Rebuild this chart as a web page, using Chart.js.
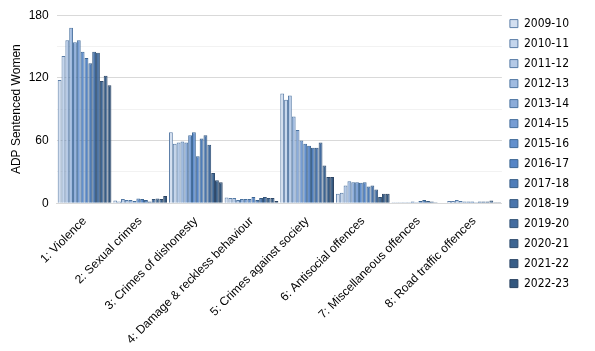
<!DOCTYPE html>
<html>
<head>
<meta charset="utf-8">
<script src="https://cdn.jsdelivr.net/npm/chart.js@4.4.1/dist/chart.umd.min.js"></script>
<style>
  html, body { margin: 0; padding: 0; background: #fff; }
  #wrap { width: 595px; height: 351px; }
</style>
</head>
<body>
<div id="wrap"><canvas id="adp-chart" width="595" height="351"></canvas></div>
<script>
const categories = [
  '1: Violence',
  '2: Sexual crimes',
  '3: Crimes of dishonesty',
  '4: Damage & reckless behaviour',
  '5: Crimes against society',
  '6: Antisocial offences',
  '7: Miscellaneous offences',
  '8: Road traffic offences'
];

const years = ['2009-10', '2010-11', '2011-12', '2012-13', '2013-14', '2014-15', '2015-16',
  '2016-17', '2017-18', '2018-19', '2019-20', '2020-21', '2021-22', '2022-23'];

// one array per crime group, one value per year (2009-10 .. 2022-23)
const violence   = [118, 141, 156, 168, 154, 156, 145, 139, 134, 145, 144, 117, 122, 113];
const sexual     = [2.5, 1.5, 4, 3, 3, 2, 4.5, 4, 3, 1.5, 4, 4.5, 4, 7];
const dishonesty = [68, 57, 58, 59, 58, 65, 68, 45, 62, 65, 56, 29, 22, 20];
const damage     = [5.5, 5, 5, 3, 4, 4, 4, 6, 3, 5, 6, 5, 5, 2];
const society    = [105, 99, 103, 83, 70, 60, 57, 55, 53, 53, 58, 36, 25, 25];
const antisocial = [9, 10, 17, 21, 20, 20, 19.5, 20, 16, 17, 13, 6, 9, 9];
const misc       = [1, 1, 1, 1, 1, 1.5, 1, 2, 3, 2, 1.5, 1, 0.5, 0.5];
const road       = [2, 2, 3, 2, 1.5, 1.5, 1.5, 1, 1.5, 1.5, 1.5, 2.5, 1, 1];

const yTicks = [0, 60, 120, 180];

const fills = ['#d3dff0', '#c4d5ec', '#b4c9e6', '#a0bbe0', '#8cacd9', '#779dd3', '#6390cd',
  '#5685c6', '#4f7db9', '#4a75ac', '#436c9f', '#3d6592', '#375d87', '#33577e'];
const edges = ['#5d7fa8', '#5a7ca6', '#557aa5', '#5077a3', '#4b73a0', '#466f9d', '#416b99',
  '#3d6693', '#3a6089', '#375a80', '#345477', '#314e6f', '#2e4868', '#2b4362'];

const groups = [violence, sexual, dishonesty, damage, society, antisocial, misc, road];

const datasets = years.map((yr, i) => ({
  label: yr,
  data: groups.map(g => g[i]),
  backgroundColor: fills[i],
  borderColor: edges[i],
  borderWidth: 1,
  categoryPercentage: 0.965,
  barPercentage: 1
}));

const ctx = document.getElementById('adp-chart').getContext('2d');
new Chart(ctx, {
  type: 'bar',
  data: { labels: categories, datasets: datasets },
  options: {
    responsive: false,
    animation: false,
    layout: { padding: { top: 0, right: 16, left: 2, bottom: 1 } },
    plugins: {
      tooltip: { enabled: false },
      legend: {
        position: 'right',
        align: 'start',
        // empty title only pushes the key down a little
        title: { display: true, text: ' ', padding: 0, font: { size: 8 } },
        labels: {
          font: { family: "'DejaVu Sans Condensed', 'DejaVu Sans'", size: 12 },
          color: '#000',
          boxWidth: 8,
          boxHeight: 8,
          padding: 8
        }
      }
    },
    scales: {
      x: {
        grid: { display: false },
        border: { color: '#d9d9d9' },
        ticks: {
          minRotation: 45,
          maxRotation: 45,
          color: '#000',
          font: { family: 'Liberation Sans', size: 12 }
        }
      },
      y: {
        min: 0,
        max: 180,
        border: { display: false },
        grid: {
          drawTicks: false,
          color: c => (yTicks.includes(c.tick.value) ? '#d9d9d9' : '#f2f2f2')
        },
        ticks: {
          stepSize: 30,
          padding: 8,
          color: '#000',
          font: { family: 'Liberation Sans', size: 12 },
          callback: v => (yTicks.includes(v) ? v : '')
        },
        title: {
          display: true,
          text: 'ADP Sentenced Women',
          color: '#000',
          font: { family: 'Liberation Sans', size: 12, lineHeight: 0.6 },
          padding: { top: 11.5, bottom: 0 }
        }
      }
    }
  }
});
</script>
</body>
</html>
